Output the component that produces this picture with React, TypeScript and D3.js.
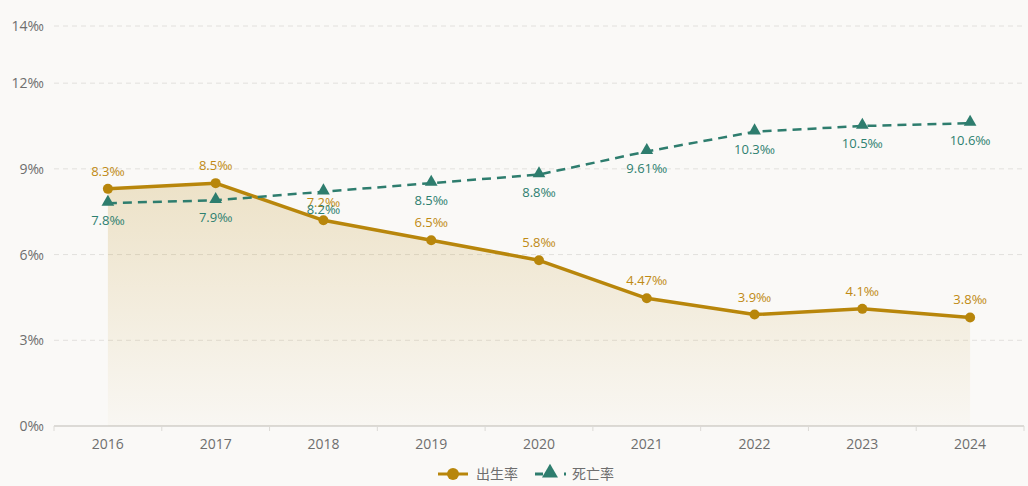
import { useEffect, useMemo } from 'react'
import * as d3 from 'd3'

const years = ['2016', '2017', '2018', '2019', '2020', '2021', '2022', '2023', '2024']
const birthRate = [8.3, 8.5, 7.2, 6.5, 5.8, 4.47, 3.9, 4.1, 3.8]
const deathRate = [7.8, 7.9, 8.2, 8.5, 8.8, 9.61, 10.3, 10.5, 10.6]
const yTicks = [0, 3, 6, 9, 12, 14]

const birthColor = '#b8860b'
const deathColor = '#2e7d6e'
const font = '"Open Sans", "DejaVu Sans", "Noto Sans CJK SC", sans-serif'

export default function App() {
  useEffect(() => {
    document.body.style.margin = '0'
  }, [])

  const width = 1028
  const height = 486
  const margin = { top: 26, right: 4, bottom: 60, left: 54 }
  const innerWidth = width - margin.left - margin.right
  const innerHeight = height - margin.top - margin.bottom

  const x = useMemo(() => d3.scaleBand().domain(years).range([0, innerWidth]), [innerWidth])
  const y = useMemo(() => d3.scaleLinear().domain([0, 14]).range([innerHeight, 0]), [innerHeight])
  const cx = (i: number) => (x(years[i]) ?? 0) + x.bandwidth() / 2

  const line = d3
    .line<number>()
    .x((_, i) => cx(i))
    .y((v) => y(v))
  const area = d3
    .area<number>()
    .x((_, i) => cx(i))
    .y0(innerHeight)
    .y1((v) => y(v))

  const triangle = d3.symbol().type(d3.symbolTriangle).size(70)()

  return (
    <svg width={width} height={height} style={{ display: 'block', background: '#faf9f7', fontFamily: font }}>
      <defs>
        <linearGradient id="birth-area" x1="0" x2="0" y1="0" y2="1">
          <stop offset="0%" stopColor="rgba(184,134,11,0.2)" />
          <stop offset="100%" stopColor="rgba(184,134,11,0.02)" />
        </linearGradient>
      </defs>
      <g transform={`translate(${margin.left},${margin.top})`}>
        {yTicks.map((tick) => (
          <g key={tick} transform={`translate(0,${y(tick)})`}>
            {tick > 0 && (
              <line x1={0} x2={innerWidth} stroke="#e2e0dd" strokeDasharray="5,4" />
            )}
            <text x={-10} y={5} textAnchor="end" fontSize={14} fill="#6e6e6e">
              {`${tick}‰`}
            </text>
          </g>
        ))}

        <line x1={0} x2={innerWidth} y1={innerHeight} y2={innerHeight} stroke="#dcdad6" strokeWidth={2} />
        {d3.range(years.length + 1).map((i) => {
          const xp = i < years.length ? x(years[i]) ?? 0 : innerWidth
          return (
            <line key={i} x1={xp} x2={xp} y1={innerHeight} y2={innerHeight + 5} stroke="#dcdad6" />
          )
        })}
        {years.map((yr, i) => (
          <text key={yr} x={cx(i)} y={innerHeight + 23} textAnchor="middle" fontSize={14} fill="#6e6e6e">
            {yr}
          </text>
        ))}

        <path d={area(birthRate) ?? ''} fill="url(#birth-area)" />
        <path d={line(birthRate) ?? ''} fill="none" stroke={birthColor} strokeWidth={3.5} strokeLinejoin="round" />
        <path
          d={line(deathRate) ?? ''}
          fill="none"
          stroke={deathColor}
          strokeWidth={2.5}
          strokeDasharray="9,6"
        />

        {birthRate.map((v, i) => (
          <g key={`b${i}`}>
            <circle cx={cx(i)} cy={y(v)} r={5} fill={birthColor} />
            <text x={cx(i)} y={y(v) - 13} textAnchor="middle" fontSize={13} fill="#c08a14">
              {`${v}‰`}
            </text>
          </g>
        ))}
        {deathRate.map((v, i) => (
          <g key={`d${i}`}>
            <path d={triangle ?? ''} transform={`translate(${cx(i)},${y(v) - 1})`} fill={deathColor} />
            <text x={cx(i)} y={y(v) + 22} textAnchor="middle" fontSize={13} fill="#2e8070">
              {`${v}‰`}
            </text>
          </g>
        ))}
      </g>

      <g transform="translate(0,474)" fontSize={14} fill="#6e6e6e">
        <line x1={438} x2={468} y1={0} y2={0} stroke={birthColor} strokeWidth={3} />
        <circle cx={453} cy={0} r={6} fill={birthColor} />
        <text x={476} y={5}>出生率</text>
        <line x1={535} x2={543} y1={0} y2={0} stroke={deathColor} strokeWidth={3} />
        <path d={d3.symbol().type(d3.symbolTriangle).size(110)() ?? ''} transform="translate(550,-1)" fill={deathColor} />
        <line x1={564} x2={566} y1={0} y2={0} stroke={deathColor} strokeWidth={3} />
        <text x={572} y={5}>死亡率</text>
      </g>
    </svg>
  )
}
